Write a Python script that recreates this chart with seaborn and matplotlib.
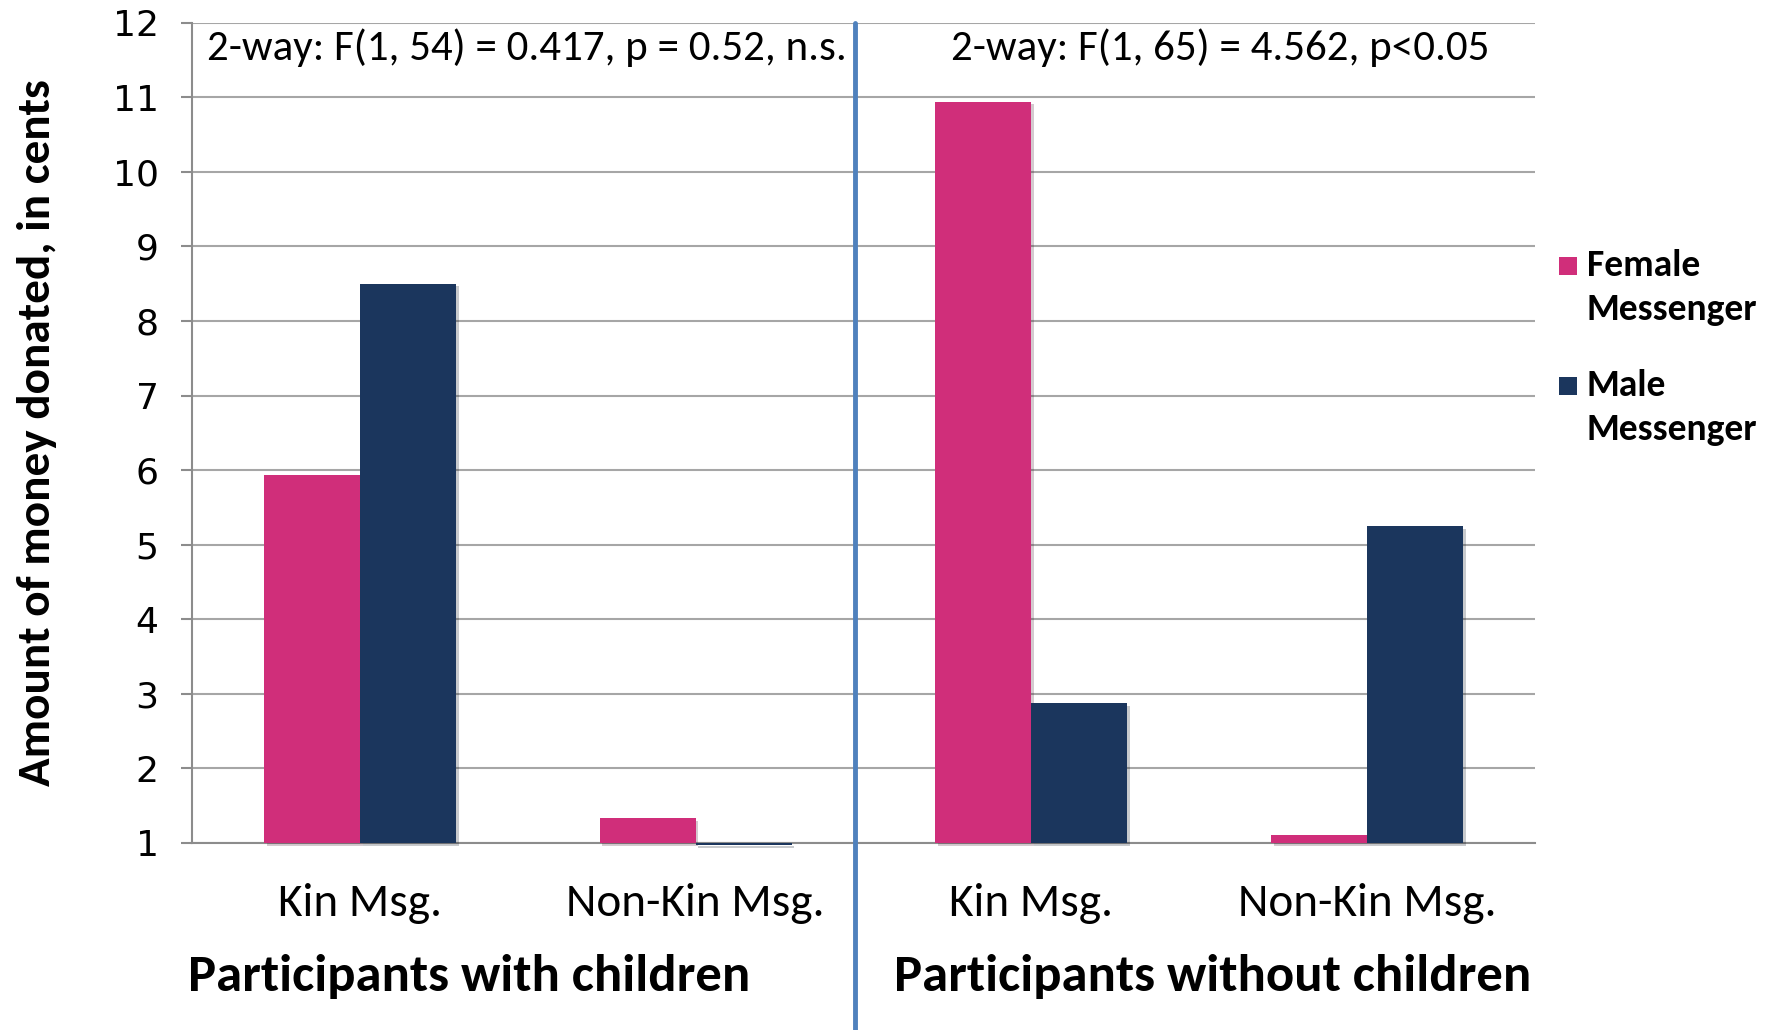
import matplotlib
matplotlib.use("Agg")
import matplotlib.pyplot as plt
from matplotlib import font_manager
from matplotlib.patches import Rectangle
import matplotlib.patheffects as pe
import matplotlib.transforms as mtransforms
import numpy as np
import pandas as pd
import seaborn as sns

# --- data -------------------------------------------------------------
groups = ["Participants with children", "Participants without children"]
messages = ["Kin Msg.", "Non-Kin Msg."]
messengers = ["Female Messenger", "Male Messenger"]
female_values = [5.93, 1.33, 10.94, 1.10]
male_values = [8.50, 0.97, 2.88, 5.25]
stats_text = ["2-way: F(1, 54) = 0.417, p = 0.52, n.s.",
              "2-way: F(1, 65) = 4.562, p<0.05"]
legend_lines = [["Female", "Messenger"], ["Male", "Messenger"]]
y_ticks = list(range(1, 13))
baseline = 1

colors = {"Female Messenger": "#D02E7A", "Male Messenger": "#1B365D"}

# --- fonts ------------------------------------------------------------
sns.set_theme(style="white")
installed = {f.name for f in font_manager.fontManager.ttflist}
main_font = "Carlito" if "Carlito" in installed else "Lato"
plt.rcParams["font.family"] = [main_font, "DejaVu Sans"]
plt.rcParams["text.color"] = "black"
plt.rcParams["axes.labelcolor"] = "black"

# --- long-form table --------------------------------------------------
slots = [f"{g}|{m}" for g in groups for m in messages]
rows = []
for slot, fv, mv in zip(slots, female_values, male_values):
    rows.append({"slot": slot, "messenger": messengers[0], "value": fv})
    rows.append({"slot": slot, "messenger": messengers[1], "value": mv})
df = pd.DataFrame(rows)
df["height"] = df["value"] - baseline

fig = plt.figure(figsize=(17.74, 10.30), dpi=100)
ax = fig.add_axes([0.1082, 0.1816, 0.8653 - 0.1082, 0.978 - 0.1816])

sns.barplot(data=df, x="slot", y="height", hue="messenger", order=slots,
            hue_order=messengers, palette=colors, width=0.572, gap=0,
            bottom=baseline, errorbar=None, saturation=1, ax=ax,
            legend=False, linewidth=0, zorder=3)
for bar in ax.patches:
    bar.set_clip_on(False)
    bar.set_path_effects([pe.SimplePatchShadow(offset=(2, -2), alpha=0.22),
                          pe.Normal()])

# --- axes ---------------------------------------------------------------
ax.set_xlim(-0.5, len(slots) - 0.5)
ax.set_ylim(1, 12)
ax.set_yticks(y_ticks)
ax.set_yticklabels([str(t) for t in y_ticks], fontfamily="DejaVu Sans",
                   fontsize=26)
ax.yaxis.grid(True, color="#A6A6A6", linewidth=1.5, zorder=0)
ax.xaxis.grid(False)
ax.set_axisbelow(True)
for side in ["top", "right"]:
    ax.spines[side].set_visible(False)
for side in ["left", "bottom"]:
    ax.spines[side].set_color("#8C8C8C")
    ax.spines[side].set_linewidth(1.5)

ax.set_xticks(range(len(slots)))
ax.set_xticklabels(messages * len(groups), fontsize=34)
ax.set_xticks(np.arange(-0.5, len(slots)), minor=True)
ax.tick_params(axis="x", which="major", length=0, pad=29, labelcolor="black")
ax.tick_params(axis="x", which="minor", length=11, width=1.5,
               color="#8C8C8C", direction="out")
ax.tick_params(axis="y", length=8, width=1.5, color="#8C8C8C", left=True,
               pad=16, labelcolor="black")
ax.set_xlabel("")
ax.set_ylabel("Amount of money donated, in cents", fontsize=34,
              fontweight="bold", labelpad=40)

# divider between participant groups
ax.axvline(1.475, ymin=-0.23, ymax=1.0, color="#4F81BD", linewidth=3.5,
           clip_on=False, zorder=5)

# statistics annotations
ax.text(0.498, 11.67, stats_text[0], ha="center", va="center", fontsize=31)
ax.text(2.562, 11.67, stats_text[1], ha="center", va="center", fontsize=31)

# group labels below the category labels
group_tf = mtransforms.blended_transform_factory(ax.transData, fig.transFigure)
for xc, label in zip([0.325, 2.54], groups):
    ax.text(xc, 0.0515, label, transform=group_tf,
            ha="center", va="center", fontsize=38, fontweight="bold")

# legend: colour square beside a two-line bold label
W, H = 1774, 1030
line_gap = 43
for (first, second), m, y0 in zip(legend_lines, messengers, [266, 386]):
    fig.patches.append(Rectangle((1559 / W, 1 - (y0 + 9) / H), 18 / W, 18 / H,
                                 transform=fig.transFigure,
                                 facecolor=colors[m], edgecolor="none"))
    fig.text(1587 / W, 1 - y0 / H, first, ha="left", va="center",
             fontsize=27, fontweight="bold")
    fig.text(1587 / W, 1 - (y0 + line_gap) / H, second, ha="left",
             va="center", fontsize=27, fontweight="bold")

fig.savefig("out.png", dpi=100)
